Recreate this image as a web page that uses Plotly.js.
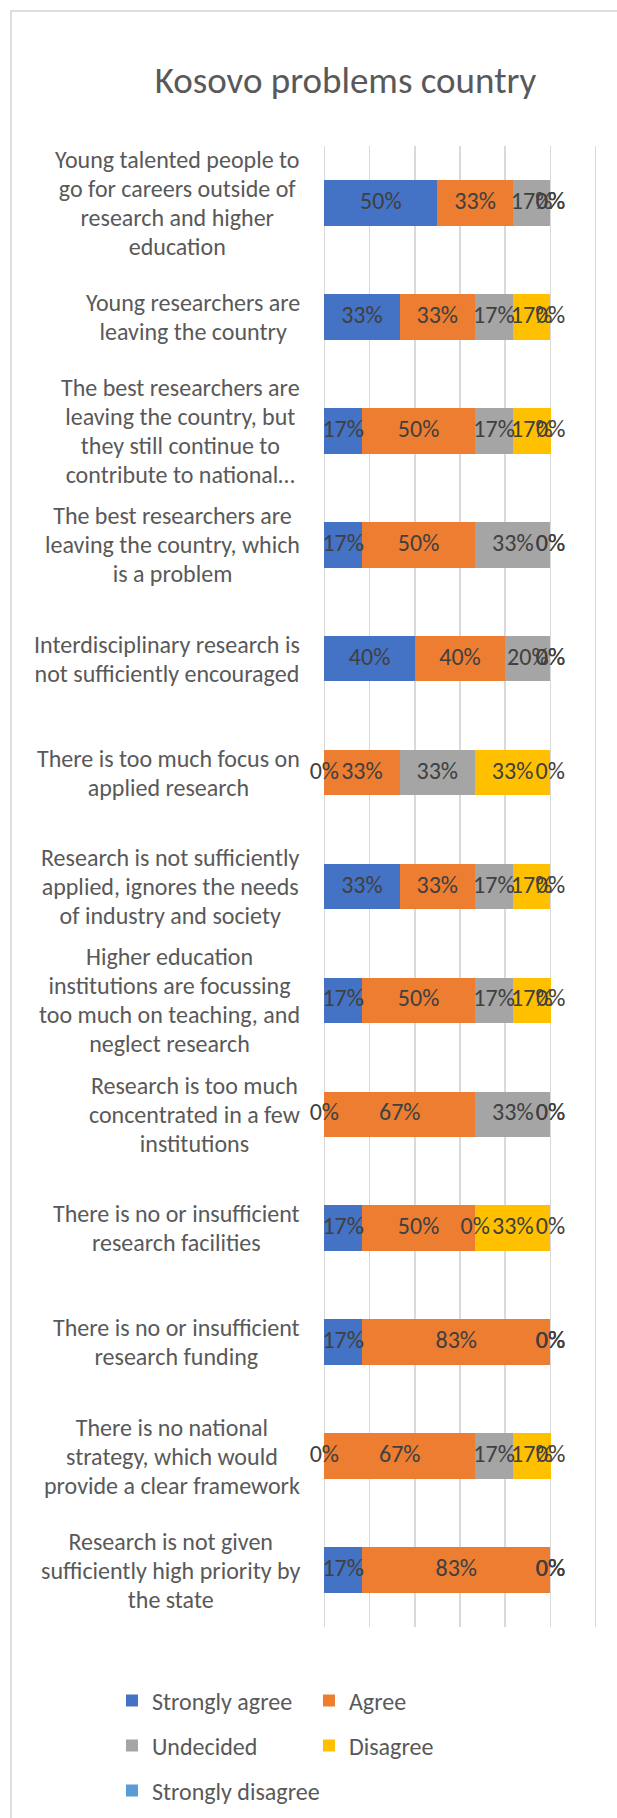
<!DOCTYPE html>
<html><head><meta charset="utf-8">
<script src="https://cdn.plot.ly/plotly-3.0.1.min.js"></script>
<style>
  html, body { margin: 0; padding: 0; background: #ffffff; overflow: hidden; }
  #chart { position: absolute; left: 0; top: 0; width: 617px; height: 1818px; }
  #frame { position: absolute; left: 10px; top: 10px; width: 800px; height: 2000px;
           border: 2px solid #dedede; pointer-events: none; }
</style>
</head><body>
<div id="chart"></div>
<div id="frame"></div>
<script>
// ---- data ----
const categories = [
  "Young talented people to<br>go for careers outside of<br>research and higher<br>education",
  "Young researchers are<br>leaving the country",
  "The best researchers are<br>leaving the country, but<br>they still continue to<br>contribute to national…",
  "The best researchers are<br>leaving the country, which<br>is a problem",
  "Interdisciplinary research is<br>not sufficiently encouraged",
  "There is too much focus on<br>applied research",
  "Research is not sufficiently<br>applied, ignores the needs<br>of industry and society",
  "Higher education<br>institutions are focussing<br>too much on teaching, and<br>neglect research",
  "Research is too much<br>concentrated in a few<br>institutions",
  "There is no or insufficient<br>research facilities",
  "There is no or insufficient<br>research funding",
  "There is no national<br>strategy, which would<br>provide a clear framework",
  "Research is not given<br>sufficiently high priority by<br>the state"
];
const seriesNames = ["Strongly agree", "Agree", "Undecided", "Disagree", "Strongly disagree"];
const stronglyAgree    = [0.5,   0.333, 0.167, 0.167, 0.4, 0,     0.333, 0.167, 0,     0.167, 0.167, 0,     0.167];
const agree            = [0.333, 0.333, 0.5,   0.5,   0.4, 0.333, 0.333, 0.5,   0.667, 0.5,   0.833, 0.667, 0.833];
const undecided        = [0.167, 0.167, 0.167, 0.333, 0.2, 0.333, 0.167, 0.167, 0.333, 0,     0,     0.167, 0];
const disagree         = [0,     0.167, 0.167, 0,     0,   0.333, 0.167, 0.167, 0,     0.333, 0,     0.167, 0];
const stronglyDisagree = [0,     0,     0,     0,     0,   0,     0,     0,     0,     0,     0,     0,     0];
const seriesColors = ["#4472C4", "#ED7D31", "#A5A5A5", "#FFC000", "#5B9BD5"];
const xTickVals = [0, 0.2, 0.4, 0.6, 0.8, 1.0, 1.2];

// ---- build traces ----
const FONT = "Carlito, Calibri, 'Liberation Sans', sans-serif";
const allSeries = [stronglyAgree, agree, undecided, disagree, stronglyDisagree];
const legendOf = ["legend", "legend", "legend2", "legend2", "legend3"];
const traces = [];
const labelTraces = [];
const base = categories.map(() => 0);
allSeries.forEach((vals, s) => {
  traces.push({
    type: "bar", orientation: "h", name: seriesNames[s], legend: legendOf[s],
    y: categories, x: vals,
    marker: { color: seriesColors[s], line: { width: 0 } },
    hoverinfo: "skip"
  });
  const mids = vals.map((v, i) => base[i] + v / 2);
  labelTraces.push({
    type: "scatter", mode: "text", showlegend: false, cliponaxis: false,
    y: categories, x: mids,
    text: vals.map(v => Math.round(v * 100) + "%"),
    textposition: "middle center",
    textfont: { family: FONT, size: 24, color: "#404040" },
    hoverinfo: "skip"
  });
  vals.forEach((v, i) => { base[i] += v; });
});

const annotations = categories.map(c => ({
  xref: "x", yref: "y", x: 0, y: c, xshift: -22,
  xanchor: "right", yanchor: "middle", align: "center",
  showarrow: false,
  text: c.split("<br>").map(l => '<span style="font-size:24px">' + l + '</span>').join("<br>"),
  font: { family: FONT, size: 22.4, color: "#595959" }
}));

function legendRow(yp, ew) {
  const lg = {
    orientation: "h", traceorder: "normal",
    xref: "paper", yref: "paper",
    x: -0.761, xanchor: "left", y: yp, yanchor: "middle",
    font: { family: FONT, size: 24, color: "#595959" },
    bgcolor: "rgba(0,0,0,0)"
  };
  if (ew) lg.entrywidth = ew;
  return lg;
}

const layout = {
  width: 617, height: 1818,
  margin: { l: 322, r: 19, t: 146, b: 191, autoexpand: false },
  paper_bgcolor: "#ffffff", plot_bgcolor: "#ffffff",
  barmode: "stack", bargap: 0.6,
  title: {
    text: "Kosovo problems country",
    font: { family: FONT, size: 37, color: "#595959" },
    xref: "container", yref: "container", x: 0.56, y: 0.956,
    xanchor: "center", yanchor: "middle"
  },
  xaxis: {
    range: [-0.0102, 1.2102], autorange: false, tickvals: xTickVals,
    showticklabels: false, ticks: "",
    showgrid: true, gridcolor: "#D9D9D9", gridwidth: 1.5,
    zeroline: false, showline: false, fixedrange: true
  },
  yaxis: {
    type: "category", categoryorder: "array", categoryarray: categories,
    range: [12.5, -0.5], autorange: false, showticklabels: false, ticks: "",
    showgrid: false, zeroline: false, showline: false, fixedrange: true
  },
  showlegend: true,
  legend: legendRow(-0.04997, 152),
  legend2: legendRow(-0.08035, 152),
  legend3: legendRow(-0.11073, 0),
  annotations: annotations
};

Plotly.newPlot("chart", traces.concat(labelTraces), layout, { displayModeBar: false, staticPlot: true });
</script></body></html>
